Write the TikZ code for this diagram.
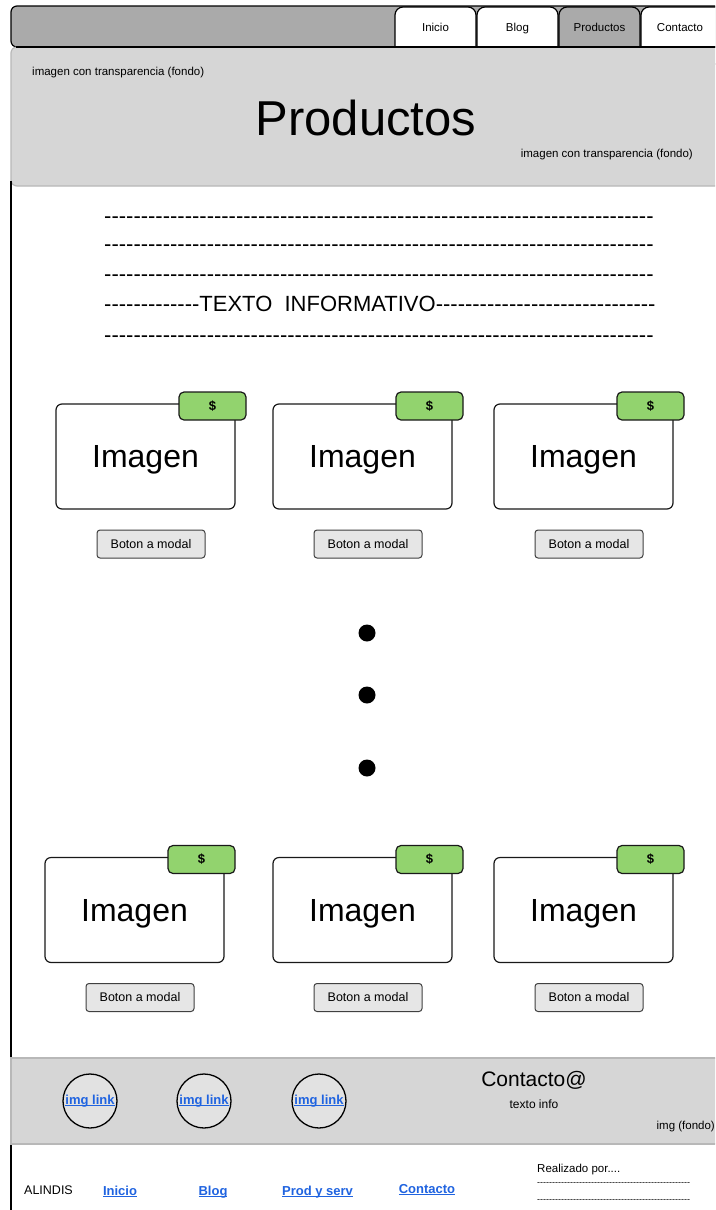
\documentclass[tikz,border=0pt]{standalone}
\usepackage{fontspec}
\setmainfont{Liberation Sans}

\definecolor{navgris}{HTML}{AAAAAA}
\definecolor{cabgris}{HTML}{D6D6D6}
\definecolor{bordegris}{HTML}{B8B8B8}
\definecolor{verde}{HTML}{92D36E}
\definecolor{botongris}{HTML}{E6E6E6}
\definecolor{enlace}{HTML}{1F63E0}
\definecolor{circgris}{HTML}{E2E2E2}

\newcommand\fs[1]{\fontsize{#1}{#1}\selectfont}
% a row of separate hyphens (no dash ligatures)
\newcommand\rayas[1]{\foreach \k in {1,...,#1}{\hbox{-}}}
% link text: blue, bold, underlined just below the baseline
\newcommand\enlace[1]{\textcolor{enlace}{\bfseries\setbox0\hbox{#1}%
  \rlap{\rule[-1.6pt]{\wd0}{0.9pt}}\box0}}

% product card: image box, price tag and modal button
\newcommand\tarjeta[3]{%
  \node[imgbox] (#1) at (#2,#3) {Imagen};
  \node[precio] (#1-precio) at (#2+67,#3-50.5) {\$};
  \node[boton] (#1-boton) at (#2+5.5,#3+87.5) {Boton a modal};
}

\begin{document}
\begin{tikzpicture}[x=1pt,y=-1pt,
  tabst/.style={draw=black, line width=1.2pt, rounded corners=8pt},
  tabtxt/.style={inner sep=0pt, anchor=base, font=\fs{11.5}},
  small/.style={inner sep=0pt, font=\fs{11.5}},
  filatxt/.style={inner sep=0pt, anchor=base west, font=\fs{22}},
  imgbox/.style={draw=black!90, fill=white, line width=1.2pt, rounded corners=6pt,
    minimum width=179pt, minimum height=105pt, inner sep=0pt, text depth=0pt,
    font=\fs{32}},
  precio/.style={draw=black!90, fill=verde, line width=1.2pt, rounded corners=5pt,
    minimum width=67pt, minimum height=28pt, inner sep=0pt, font=\fs{13}\bfseries},
  boton/.style={draw=black!75, fill=botongris, line width=1pt, rounded corners=3pt,
    minimum width=108pt, minimum height=28pt, inner sep=0pt, font=\fs{12.5}},
  punto/.style={circle, fill=black, minimum size=17pt, inner sep=0pt},
  circulo/.style={circle, draw=black, fill=circgris, line width=1.3pt,
    minimum size=54pt, inner sep=0pt, font=\fs{13}},
  pie/.style={inner sep=0pt, anchor=base, font=\fs{13}},
]
\useasboundingbox (0,0) rectangle (715,1210);
\fill[white] (0,0) rectangle (715,1210);
\clip (0,0) rectangle (715,1210);

% top navigation bar
\draw[fill=navgris, line width=1.2pt, rounded corners=6pt] (11,6) rectangle (740,47);
\draw[tabst, fill=white]   (395,7) rectangle (476,64);
\draw[tabst, fill=white]   (477,7) rectangle (558,64);
\draw[tabst, fill=navgris] (559,7) rectangle (640,64);
\draw[tabst, fill=white]   (641,7) rectangle (740,64);
\node[tabtxt] (tInicio) at (435.5,31) {Inicio};
\node[tabtxt] (tBlog) at (517.5,31) {Blog};
\node[tabtxt] (tProd) at (599.5,31) {Productos};
\node[tabtxt] (tCont) at (680,31) {Contacto};

% header banner
\draw[fill=cabgris, draw=bordegris, line width=1.2pt, rounded corners=6pt] (11,47) rectangle (740,186);
\draw[line width=1.4pt] (16,47) -- (740,47);
\node[small, anchor=west] (fondo1) at (32,73) {imagen con transparencia (fondo)};
\node[inner sep=0pt, font=\fs{49}] (titulo) at (366,118) {Productos};
\node[small, anchor=east] (fondo2) at (693,155) {imagen con transparencia (fondo)};

% left page edge
\draw[line width=1.4pt] (11,181) -- (11,1215);

% informative text block
\node[filatxt] (f1) at (104,223) {\rayas{75}};
\node[filatxt] (f2) at (104,251) {\rayas{75}};
\node[filatxt] (f3) at (104,281) {\rayas{75}};
\node[filatxt] (f4) at (104,311) {\rayas{13}TEXTO\ \ INFORMATIVO\rayas{30}};
\node[filatxt] (f5) at (104,342) {\rayas{75}};

% product cards, first row
\tarjeta{p1}{145.5}{456.5}
\tarjeta{p2}{362.5}{456.5}
\tarjeta{p3}{583.5}{456.5}

% ellipsis dots
\node[punto] (d1) at (367,633) {};
\node[punto] (d2) at (367,695) {};
\node[punto] (d3) at (367,768) {};

% product cards, last row
\tarjeta{q1}{134.5}{910}
\tarjeta{q2}{362.5}{910}
\tarjeta{q3}{583.5}{910}

% contact band
\draw[fill=cabgris, draw=bordegris, line width=1.5pt] (11,1058) rectangle (740,1144);
\node[circulo] (c1) at (90,1101) {\enlace{img link}};
\node[circulo] (c2) at (204,1101) {\enlace{img link}};
\node[circulo] (c3) at (319,1101) {\enlace{img link}};
\node[inner sep=0pt, font=\fs{21}] (contacto) at (534,1080) {Contacto@};
\node[inner sep=0pt, font=\fs{12}] (info) at (534,1104) {texto info};
\node[small, anchor=east] (imgfondo) at (715,1127) {img (fondo)};

% bottom footer
\node[pie, anchor=base west, font=\fs{12.5}] (marca) at (24,1194) {ALINDIS};
\node[pie] (lInicio) at (120,1195) {\enlace{Inicio}};
\node[pie] (lBlog) at (213,1195) {\enlace{Blog}};
\node[pie] (lProd) at (317.5,1195) {\enlace{Prod y serv}};
\node[pie] (lCont) at (427,1193) {\enlace{Contacto}};
\node[small, anchor=west] (realizado) at (537,1170) {Realizado por....};
\node[inner sep=0pt, anchor=west, font=\fs{9}] (r1) at (537,1184) {\rayas{51}};
\node[inner sep=0pt, anchor=west, font=\fs{9}] (r2) at (537,1201) {\rayas{51}};
\end{tikzpicture}
\end{document}
